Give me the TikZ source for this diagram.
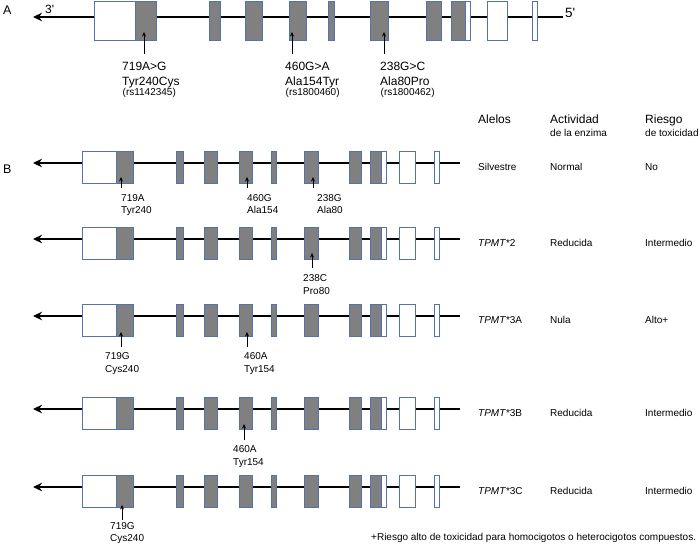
\documentclass[tikz,border=0pt]{standalone}
\usepackage{fontspec}
\setmainfont{Liberation Sans}
\usetikzlibrary{arrows.meta}
\definecolor{exgray}{RGB}{128,128,128}
\definecolor{exedge}{RGB}{85,115,170}
\newcommand\fs[1]{\fontsize{#1}{#1}\selectfont}
\begin{document}
\begin{tikzpicture}[x=1pt,y=-1pt,
  exon/.style={fill=exgray,draw=exedge,line width=0.8pt},
  utr/.style={fill=white,draw=exedge,line width=0.8pt},
  strand/.style={line width=2.6pt,-{Stealth[length=9pt,width=8.5pt]}},
  mut/.style={line width=0.7pt,-{Stealth[length=4.5pt,width=4pt]}},
  t/.style={anchor=base west,inner sep=0pt},
  big/.style={t,font=\fs{12}},
  mid/.style={t,font=\fs{10}},
  small/.style={t,font=\fs{10}}]
\useasboundingbox (0,0) rectangle (700,544);

% ---------- Panel A ----------
\node[t,font=\fs{12.5}] (labA) at (3,14) {A};
\node[t,font=\fs{12}] (p3) at (45,13) {3\textquotesingle};
\node[t,font=\fs{13.5}] (p5) at (565,17) {5\textquotesingle};
\coordinate (aR) at (563,17);
\coordinate (aL) at (33,17);
\draw[strand] (aR) -- (aL);
\foreach \a/\b in {94/135,465/470,487/507,532/537}
  \draw[utr] (\a,1) rectangle (\b,40);
\foreach \a/\b in {135/156,209/220,245/262,289/306,328/334,370/388,426/441,451/465}
  \draw[exon] (\a,1) rectangle (\b,40);

\coordinate (mA1t) at (144,54); \coordinate (mA1h) at (144,32);
\coordinate (mA2t) at (292,54); \coordinate (mA2h) at (292,32);
\coordinate (mA3t) at (384,54); \coordinate (mA3h) at (384,32);
\draw[mut] (mA1t) -- (mA1h);
\draw[mut] (mA2t) -- (mA2h);
\draw[mut] (mA3t) -- (mA3h);
\node[big] (a1a) at (122,70) {719A>G};
\node[big] (a1b) at (122,85) {Tyr240Cys};
\node[small] (a1c) at (122.5,95) {(rs1142345)};
\node[big] (a2a) at (285,70) {460G>A};
\node[big] (a2b) at (285,85) {Ala154Tyr};
\node[small] (a2c) at (285.5,95) {(rs1800460)};
\node[big] (a3a) at (380,70) {238G>C};
\node[big] (a3b) at (380,85) {Ala80Pro};
\node[small] (a3c) at (380.5,95) {(rs1800462)};

% ---------- Panel B header ----------
\node[t,font=\fs{12.5}] (labB) at (3,173) {B};
\node[big] (hAl) at (478,123) {Alelos};
\node[big] (hAc) at (550,123) {Actividad};
\node[mid] (hAc2) at (550,136) {de la enzima};
\node[big] (hRi) at (645,123) {Riesgo};
\node[mid] (hRi2) at (645,136) {de toxicidad};

% ---------- gene rows ----------
\newcommand\generow[2]{%
  \coordinate (#2R) at (460,#1);
  \coordinate (#2L) at (33,#1);
  \draw[strand] (#2R) -- (#2L);
  \foreach \a/\b in {82/116,381/386,399/415,434/439}
    \draw[utr] (\a,#1-12) rectangle (\b,#1+20);
  \foreach \a/\b in {116/133,176/183,204/217,239/252,271/276,304/318,349/361,370/381}
    \draw[exon] (\a,#1-12) rectangle (\b,#1+20);
}
\generow{163}{r1}
\generow{239}{r2}
\generow{316}{r3}
\generow{409}{r4}
\generow{487}{r5}

% row 1
\coordinate (m11t) at (121,188); \coordinate (m11h) at (121,177);
\coordinate (m12t) at (247,188); \coordinate (m12h) at (247,177);
\coordinate (m13t) at (313,188); \coordinate (m13h) at (313,177);
\draw[mut] (m11t) -- (m11h);
\draw[mut] (m12t) -- (m12h);
\draw[mut] (m13t) -- (m13h);
\node[mid] (l11a) at (121,201) {719A};
\node[mid] (l11b) at (121,213) {Tyr240};
\node[mid] (l12a) at (247,201) {460G};
\node[mid] (l12b) at (247,213) {Ala154};
\node[mid] (l13a) at (317,201) {238G};
\node[mid] (l13b) at (317,213) {Ala80};
\node[mid] (c1a) at (478,170) {Silvestre};
\node[mid] (c1b) at (550,170) {Normal};
\node[mid] (c1c) at (645,170) {No};

% row 2
\coordinate (m21t) at (312,268); \coordinate (m21h) at (312,253);
\draw[mut] (m21t) -- (m21h);
\node[mid] (l21a) at (303,281) {238C};
\node[mid] (l21b) at (303,294) {Pro80};
\node[mid] (c2a) at (478,246) {\textit{TPMT}*2};
\node[mid] (c2b) at (550,246) {Reducida};
\node[mid] (c2c) at (645,246) {Intermedio};

% row 3
\coordinate (m31t) at (121,347); \coordinate (m31h) at (121,332);
\coordinate (m32t) at (247,347); \coordinate (m32h) at (247,332);
\draw[mut] (m31t) -- (m31h);
\draw[mut] (m32t) -- (m32h);
\node[mid] (l31a) at (105,359.5) {719G};
\node[mid] (l31b) at (105,372) {Cys240};
\node[mid] (l32a) at (244,359.5) {460A};
\node[mid] (l32b) at (244,372) {Tyr154};
\node[mid] (c3a) at (478,323) {\textit{TPMT}*3A};
\node[mid] (c3b) at (550,323) {Nula};
\node[mid] (c3c) at (645,323) {Alto+};

% row 4
\coordinate (m41t) at (244,440); \coordinate (m41h) at (244,424);
\draw[mut] (m41t) -- (m41h);
\node[mid] (l41a) at (233,452) {460A};
\node[mid] (l41b) at (233,465) {Tyr154};
\node[mid] (c4a) at (478,416) {\textit{TPMT}*3B};
\node[mid] (c4b) at (550,416) {Reducida};
\node[mid] (c4c) at (645,416) {Intermedio};

% row 5
\coordinate (m51t) at (122,520); \coordinate (m51h) at (122,505);
\draw[mut] (m51t) -- (m51h);
\node[mid] (l51a) at (110,529) {719G};
\node[mid] (l51b) at (110,541) {Cys240};
\node[mid] (c5a) at (478,494) {\textit{TPMT}*3C};
\node[mid] (c5b) at (550,494) {Reducida};
\node[mid] (c5c) at (645,494) {Intermedio};

\node[mid] (foot) at (371,540) {+Riesgo alto de toxicidad para homocigotos o heterocigotos compuestos.};
\end{tikzpicture}
\end{document}
